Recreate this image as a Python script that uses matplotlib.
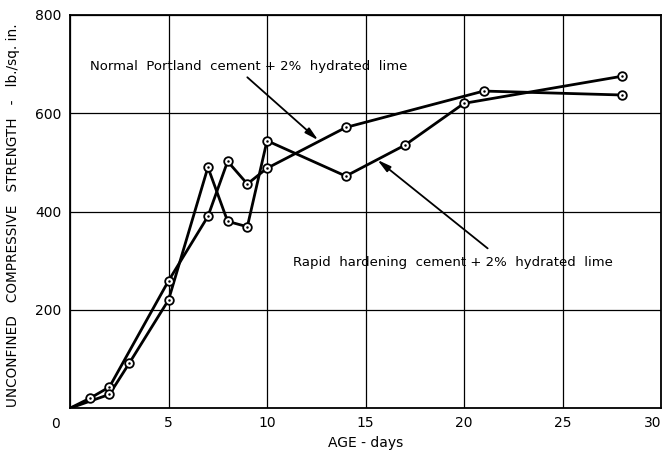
import matplotlib
matplotlib.use("Agg")
import matplotlib.pyplot as plt

# Unconfined compressive strength (lb/sq.in.) vs age (days)
normal_days = [0, 1, 2, 5, 7, 8, 9, 10, 14, 21, 28]
normal_strength = [0, 20, 43, 259, 390, 502, 456, 488, 571, 645, 637]

rapid_days = [0, 2, 3, 5, 7, 8, 9, 10, 14, 17, 20, 28]
rapid_strength = [0, 28, 91, 220, 490, 380, 369, 544, 472, 535, 620, 675]

x_ticks = [0, 5, 10, 15, 20, 25, 30]
y_ticks = [200, 400, 600, 800]

normal_label = "Normal  Portland  cement + 2%  hydrated  lime"
rapid_label = "Rapid  hardening  cement + 2%  hydrated  lime"

plt.rcParams["font.family"] = ["DejaVu Sans"]

fig = plt.figure(figsize=(6.67, 4.5), dpi=100)
ax = fig.add_axes([0.105, 0.093, 0.886, 0.874])

for d, s in [(normal_days, normal_strength), (rapid_days, rapid_strength)]:
    ax.plot(d, s, color="black", lw=2.0, zorder=3)
    pts_d, pts_s = d[1:], s[1:]
    ax.plot(pts_d, pts_s, ls="none", marker="o", ms=6.2, mfc="white",
            mec="black", mew=1.3, zorder=4)
    ax.plot(pts_d, pts_s, ls="none", marker="o", ms=1.8, mfc="black",
            mec="black", mew=0, zorder=5)

ax.set_xlim(0, 30)
ax.set_ylim(0, 800)
ax.set_xticks(x_ticks)
ax.set_yticks(y_ticks)
ax.set_xticklabels([str(t) for t in x_ticks], fontsize=10)
ax.set_yticklabels([str(t) for t in y_ticks], fontsize=10)
ax.tick_params(length=0, pad=6)
ax.grid(True, color="black", lw=0.9)
ax.set_axisbelow(True)
for sp in ax.spines.values():
    sp.set_linewidth(1.3)

# shared origin label; last label kept inside the figure edge
xt = ax.xaxis.get_major_ticks()
xt[0].label1.set_visible(False)
xt[-1].label1.set_horizontalalignment("right")
ax.text(-0.5, -18, "0", ha="right", va="top", fontsize=10)

ax.set_xlabel("AGE - days", fontsize=10, labelpad=4)
ax.set_ylabel("UNCONFINED   COMPRESSIVE   STRENGTH   -   lb./sq. in.",
              fontsize=9.8, labelpad=6)
ax.yaxis.set_label_coords(-0.085, 0.49)

arrow = dict(arrowstyle="-|>,head_length=0.8,head_width=0.2",
             color="black", lw=1.3, shrinkA=0, shrinkB=0)
ax.text(1.0, 694, normal_label, fontsize=9.5, ha="left", va="center")
ax.annotate("", xy=(12.6, 545), xytext=(9.0, 673), arrowprops=arrow)
ax.text(11.3, 297, rapid_label, fontsize=9.5, ha="left", va="center")
ax.annotate("", xy=(15.6, 505), xytext=(21.2, 325), arrowprops=arrow)

fig.savefig("out.png", dpi=100)
